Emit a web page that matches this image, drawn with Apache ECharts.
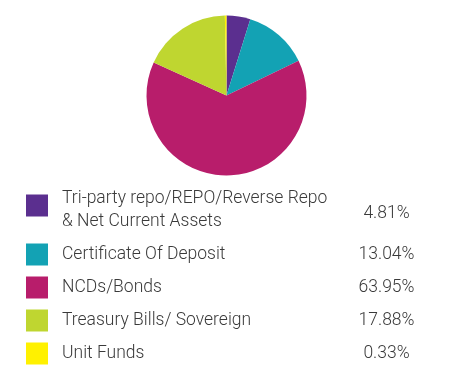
<!DOCTYPE html>
<html><head><meta charset="utf-8">
<script src="https://cdn.jsdelivr.net/npm/echarts@6/dist/echarts.min.js"></script>
<style>html,body{margin:0;padding:0;background:#fff}#c{width:455px;height:372px}</style>
</head><body><div id="c"></div>
<script>
const categories = [
  "Tri-party repo/REPO/Reverse Repo\n& Net Current Assets",
  "Certificate Of Deposit",
  "NCDs/Bonds",
  "Treasury Bills/ Sovereign",
  "Unit Funds"
];
const values = [4.81, 13.04, 63.95, 17.88, 0.33];
const valueLabels = ["4.81%", "13.04%", "63.95%", "17.88%", "0.33%"];
const colors = ["#5b2f8f", "#13a2b4", "#b81d6b", "#bfd630", "#fff100"];

const FONT = "Roboto";
const FS = 17.5;
const TXT = "#3a3a3a";
const CLEAR = "rgba(255,255,255,0)";
const chart = echarts.init(document.getElementById('c'), null, {renderer: 'canvas'});
const tok = (extra) => Object.assign({fontFamily: FONT, fontSize: FS, fontWeight: 300, color: TXT}, extra);

chart.setOption({
  animation: false,
  color: colors,
  legend: [{
    orient: 'vertical', left: 26, top: 177.5, padding: 0, itemGap: 9,
    itemWidth: 22, itemHeight: 22, icon: 'rect', selectedMode: false,
    data: categories,
    formatter: function (name) {
      const lines = name.split('\n');
      if (lines.length > 1) return '{e| }\n' + lines.map(l => '{m|' + l + '}').join('\n');
      return '{s|' + name + '}';
    },
    textStyle: {
      fontFamily: FONT, fontSize: FS, fontWeight: 300, color: TXT,
      backgroundColor: CLEAR,
      rich: {
        e: tok({lineHeight: 10, fontSize: 6}),
        m: tok({lineHeight: 23, padding: [0, 0, 0, 9]}),
        s: tok({lineHeight: 24, padding: [0, 0, 0, 9]})
      }
    }
  }, {
    orient: 'vertical', left: 346.5, top: 177.5, padding: 0, itemGap: 9,
    itemWidth: 0, itemHeight: 0, icon: 'rect', selectedMode: false,
    itemStyle: {opacity: 0},
    data: categories,
    formatter: function (name) {
      const i = categories.indexOf(name);
      const v = valueLabels[i];
      if (categories[i].indexOf('\n') >= 0) return '{e| }\n{q|' + v + '}';
      return '{p|' + v + '}';
    },
    textStyle: {
      fontFamily: FONT, fontSize: FS, fontWeight: 300, color: TXT,
      backgroundColor: CLEAR,
      rich: {
        e: tok({lineHeight: 16, fontSize: 6}),
        q: tok({lineHeight: 40, width: 70, align: 'center'}),
        p: tok({lineHeight: 24, width: 70, align: 'center'})
      }
    }
  }],
  series: [{
    type: 'pie',
    center: [226.5, 95.5],
    radius: 80,
    startAngle: 90,
    clockwise: true,
    label: {show: false},
    labelLine: {show: false},
    emphasis: {disabled: true},
    itemStyle: {borderWidth: 0},
    data: categories.map((n, i) => ({name: n, value: values[i]}))
  }]
});
</script>
</body></html>
